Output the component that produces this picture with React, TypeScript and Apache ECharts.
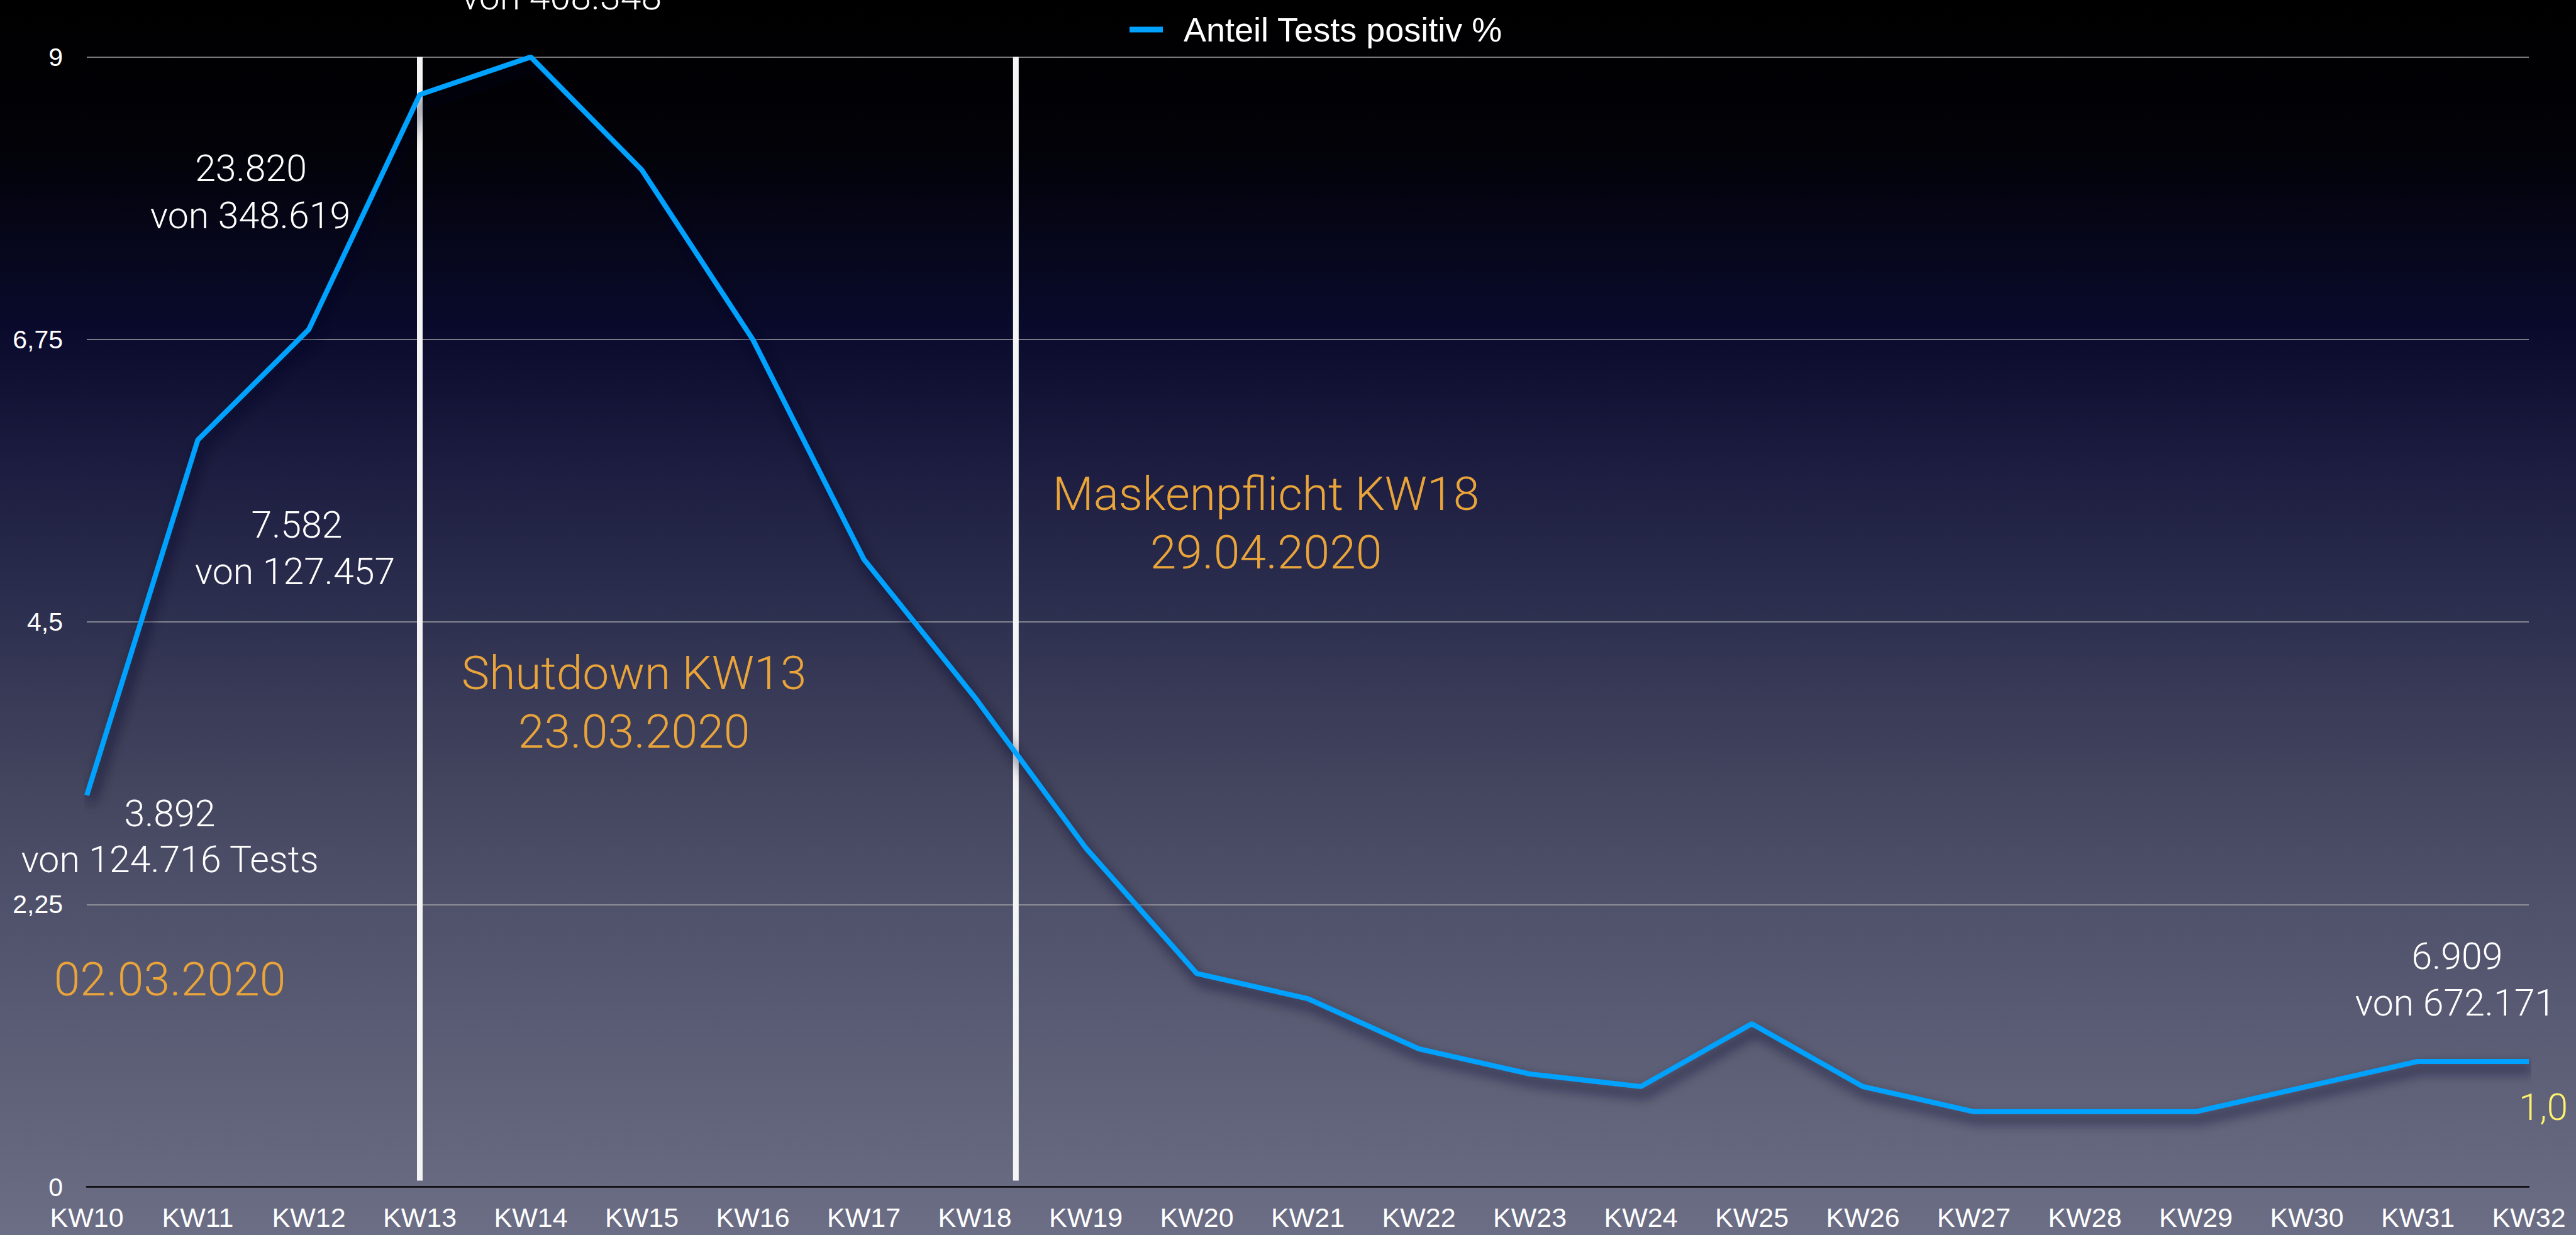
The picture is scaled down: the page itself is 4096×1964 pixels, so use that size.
import React, { useEffect, useRef } from "react";
import * as echarts from "echarts";

// ---- data ----
const weeks = [
  "KW10", "KW11", "KW12", "KW13", "KW14", "KW15", "KW16", "KW17", "KW18", "KW19", "KW20", "KW21",
  "KW22", "KW23", "KW24", "KW25", "KW26", "KW27", "KW28", "KW29", "KW30", "KW31", "KW32",
];
const positiveShare = [
  3.12, 5.95, 6.83, 8.7, 9.0, 8.1, 6.75, 5.0, 3.9, 2.7, 1.7, 1.5,
  1.1, 0.9, 0.8, 1.3, 0.8, 0.6, 0.6, 0.6, 0.8, 1.0, 1.0,
];
const seriesName = "Anteil Tests positiv %";
const yTicks = [0, 2.25, 4.5, 6.75, 9];
const eventWeekIndex = [3, 8.37]; // Shutdown (KW13), Maskenpflicht (29.04., KW18)
const eventLineRange = [0.05, 9];

const whiteNotes = [
  "3.892", "von 124.716 Tests",
  "23.820", "von 348.619",
  "7.582", "von 127.457",
  "von 408.348",
  "6.909", "von 672.171",
];
const orangeNotes = [
  "02.03.2020",
  "Shutdown KW13", "23.03.2020",
  "Maskenpflicht KW18", "29.04.2020",
];
const endValueLabel = "1,0";

// ---- layout / style ----
const W = 4096;
const H = 1964;
const LIGHT = "Roboto";
const REG = "'Liberation Sans', Arial, sans-serif";
const ORANGE = "#E9A43A";
const BLUE = "#00A2FF";

const whitePos = [
  [270, 1293], [270, 1366],
  [399, 267], [398, 342],
  [472, 834], [469, 908],
  [893, -6],
  [3907, 1520], [3904, 1594],
];
const orangePos = [
  [270, 1557],
  [1008, 1070], [1008, 1163],
  [2013, 785], [2013, 878],
];

function buildOption() {
  const graphics: any[] = [];
  whiteNotes.forEach((t, i) => {
    graphics.push({
      type: "text",
      x: whitePos[i][0],
      y: whitePos[i][1],
      z: 10,
      style: {
        text: t,
        fill: "#ffffff",
        fontSize: 59,
        fontFamily: LIGHT,
        fontWeight: 300,
        align: "center",
        verticalAlign: "middle",
      },
    });
  });
  orangeNotes.forEach((t, i) => {
    graphics.push({
      type: "text",
      x: orangePos[i][0],
      y: orangePos[i][1],
      z: 10,
      style: {
        text: t,
        fill: ORANGE,
        fontSize: 75,
        fontFamily: LIGHT,
        fontWeight: 300,
        align: "center",
        verticalAlign: "middle",
      },
    });
  });
  graphics.push({
    type: "text",
    x: 4044,
    y: 1760,
    z: 10,
    style: {
      text: endValueLabel,
      fill: "#FFF36E",
      fontSize: 60,
      fontFamily: LIGHT,
      fontWeight: 300,
      align: "center",
      verticalAlign: "middle",
    },
  });

  const eventSeries = eventWeekIndex.map((xi, k) => ({
    name: "event" + k,
    type: "line",
    xAxisIndex: 1,
    yAxisIndex: 0,
    data: eventLineRange.map((v) => [xi, v]),
    showSymbol: false,
    symbol: "none",
    silent: true,
    z: 4,
    lineStyle: { color: "#f4f4f4", width: 9, type: "solid" },
  }));

  return {
    animation: false,
    backgroundColor: {
      type: "linear",
      x: 0,
      y: 0,
      x2: 0,
      y2: 1,
      colorStops: [
        { offset: 0, color: "#000000" },
        { offset: 0.12, color: "#020208" },
        { offset: 0.27, color: "#0a0b2d" },
        { offset: 0.38, color: "#1c1d40" },
        { offset: 0.5, color: "#2e3050" },
        { offset: 0.64, color: "#44465f" },
        { offset: 0.73, color: "#4f516b" },
        { offset: 0.88, color: "#5f6179" },
        { offset: 1, color: "#6c6e86" },
      ],
    },
    legend: {
      data: [seriesName],
      left: 1791,
      top: 15,
      icon: "rect",
      itemWidth: 53,
      itemHeight: 9,
      textStyle: {
        color: "#ffffff",
        fontSize: 54,
        lineHeight: 54,
        fontFamily: REG,
        padding: [0, 0, 0, 28],
      },
    },
    grid: {
      left: 138,
      right: 75,
      top: 90.6,
      bottom: 76.4,
      containLabel: false,
      outerBoundsMode: "none",
    },
    xAxis: [
      {
        type: "category",
        data: weeks,
        boundaryGap: false,
        axisLine: { show: true, lineStyle: { color: "#000000", width: 2.5 } },
        axisTick: { show: false },
        splitLine: { show: false },
        axisLabel: {
          color: "#ffffff",
          fontSize: 43,
          lineHeight: 43,
          fontFamily: REG,
          margin: 27,
          interval: 0,
        },
      },
      {
        type: "value",
        min: 0,
        max: weeks.length - 1,
        show: false,
        splitLine: { show: false },
      },
    ],
    yAxis: {
      type: "value",
      min: yTicks[0],
      max: yTicks[yTicks.length - 1],
      interval: yTicks[1] - yTicks[0],
      axisLine: { show: false },
      axisTick: { show: false },
      splitLine: { show: true, lineStyle: { color: "#a2a2a6", width: 1.6 } },
      axisLabel: {
        color: "#ffffff",
        fontSize: 41,
        fontFamily: REG,
        margin: 38,
        formatter: (v: number) => String(v).replace(".", ","),
      },
    },
    series: [
      {
        name: seriesName,
        type: "line",
        data: positiveShare,
        showSymbol: false,
        symbol: "none",
        z: 5,
        color: BLUE,
        lineStyle: {
          color: BLUE,
          width: 8,
          shadowColor: "rgba(15,15,38,0.85)",
          shadowBlur: 20,
          shadowOffsetX: 6,
          shadowOffsetY: 12,
        },
      },
      ...eventSeries,
    ],
    graphic: graphics,
  };
}

export default function App() {
  const ref = useRef<HTMLDivElement>(null);
  useEffect(() => {
    if (!ref.current) return;
    const chart = echarts.init(ref.current, null, { renderer: "svg" });
    chart.setOption(buildOption() as any);
    return () => chart.dispose();
  }, []);
  return (
    <div
      ref={ref}
      style={{ position: "absolute", left: 0, top: 0, width: W, height: H }}
    />
  );
}
